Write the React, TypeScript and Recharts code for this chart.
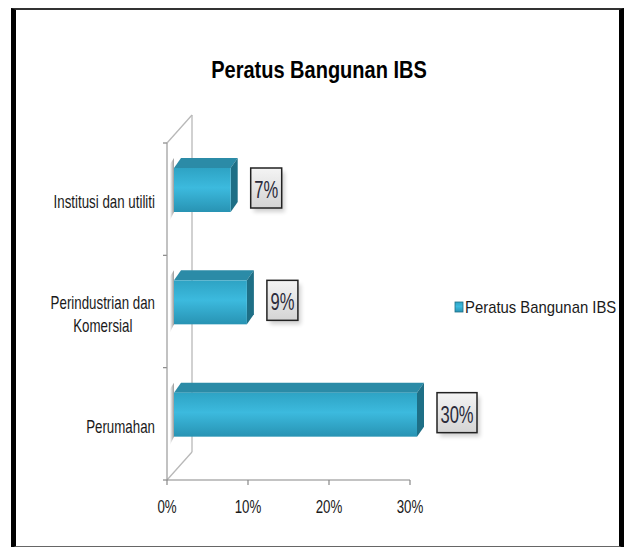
import React from 'react';
import { BarChart, Bar, XAxis, YAxis, LabelList, Customized } from 'recharts';

const categories = ['Institusi dan utiliti', 'Perindustrian dan\nKomersial', 'Perumahan'];
const values = [7, 9, 30];
const xTicks = [0, 10, 20, 30];
const seriesName = 'Peratus Bangunan IBS';
const title = 'Peratus Bangunan IBS';

const data = categories.map((c, i) => ({ name: c, value: values[i] }));

const FONT = "'Liberation Sans', Arial, sans-serif";
const W = 624;
const H = 547;
const XAH = 30;
const M = { top: 143, right: 214, bottom: 67 - XAH, left: 0 };
const YW = 167;
const PL = M.left + YW;
const PT = M.top;
const PB = H - M.bottom - XAH;
const DEPTH_X = 25;
const DEPTH_Y = 28;
const BX = 7;
const BY = 10;
const SQ = 0.74; // horizontal squeeze of body text

let ctx: CanvasRenderingContext2D | null = null;
function measure(t: string, font: string) {
  if (!ctx) ctx = document.createElement('canvas').getContext('2d');
  if (!ctx) return t.length * 8;
  ctx.font = font;
  return ctx.measureText(t).width;
}

const SText = (p: any) => {
  const { x, y, sx = 1, anchor = 'start', size, weight = 'normal', fill = '#1a1a1a', children } = p;
  return (
    <g transform={`translate(${x} ${y}) scale(${sx} 1)`}>
      <text x={0} y={0} textAnchor={anchor} fontFamily={FONT} fontSize={size} fontWeight={weight} fill={fill}>
        {children}
      </text>
    </g>
  );
};

const Bar3D = (props: any) => {
  const { x, y, width, height } = props;
  const fx = x + BX;
  const fy = y - 9;
  return (
    <g>
      <polygon
        points={`${fx - 4},${fy - 4} ${fx},${fy - BY} ${fx},${fy + height} ${fx - 4},${fy + height + 8}`}
        fill="url(#sideShadow)"
      />
      <polygon
        points={`${fx},${fy} ${fx + BX},${fy - BY} ${fx + width + BX},${fy - BY} ${fx + width},${fy}`}
        fill="#2b8ba7"
      />
      <polygon
        points={`${fx + width},${fy} ${fx + width + BX},${fy - BY} ${fx + width + BX},${fy + height - BY} ${fx + width},${fy + height}`}
        fill="#1e6f86"
      />
      <rect x={fx} y={fy} width={width} height={height} fill="url(#frontGrad)" />
    </g>
  );
};

const ValueLabel = (props: any) => {
  const { x, y, width, height, value } = props;
  const txt = `${value}%`;
  const bw = 13 + 9 * txt.length;
  const bh = 40;
  const fx = x + BX + width;
  const cy = y - 9 + height / 2 - 2;
  const bx = fx + 20;
  const by = cy - bh / 2;
  return (
    <g>
      <rect x={bx + 3} y={by + 4} width={bw} height={bh} fill="#000" opacity={0.18} filter="url(#blur)" />
      <rect x={bx} y={by} width={bw} height={bh} fill="url(#boxGrad)" stroke="#222" strokeWidth={1.5} />
      <SText x={bx + bw / 2} y={by + 30} sx={0.72} anchor="middle" size={23} fill="#2a2a3a">
        {txt}
      </SText>
    </g>
  );
};

const YTick = (props: any) => {
  const { y, payload } = props;
  const lines: string[] = String(payload.value).split('\n');
  const size = 18;
  const font = `${size}px ${FONT}`;
  const maxW = Math.max(...lines.map((l) => measure(l, font))) * SQ;
  const right = 155;
  const cx = right - maxW / 2;
  const lh = 23;
  const start = y + 9 - ((lines.length - 1) * lh) / 2;
  return (
    <g>
      {lines.map((l, i) => (
        <SText key={i} x={cx} y={start + i * lh} sx={SQ} anchor="middle" size={size}>
          {l}
        </SText>
      ))}
    </g>
  );
};

const XTick = (props: any) => {
  const { x, y, payload } = props;
  return (
    <SText x={x} y={y + 26} sx={SQ} anchor="middle" size={18}>
      {`${payload.value}%`}
    </SText>
  );
};

const Decor = () => {
  const band = (PB - PT) / categories.length;
  const bounds = Array.from({ length: categories.length + 1 }, (_, i) => PT + i * band);
  return (
    <g>
      <defs>
        <linearGradient id="frontGrad" x1="0" y1="0" x2="0" y2="1">
          <stop offset="0%" stopColor="#2ea3c4" />
          <stop offset="45%" stopColor="#3cbade" />
          <stop offset="100%" stopColor="#2893b3" />
        </linearGradient>
        <linearGradient id="boxGrad" x1="0" y1="0" x2="0" y2="1">
          <stop offset="0%" stopColor="#f4f4f4" />
          <stop offset="100%" stopColor="#d4d4d4" />
        </linearGradient>
        <linearGradient id="sideShadow" x1="0" y1="0" x2="1" y2="0">
          <stop offset="0%" stopColor="#ffffff" />
          <stop offset="100%" stopColor="#9a9a9a" />
        </linearGradient>
        <filter id="blur" x="-20%" y="-20%" width="140%" height="140%">
          <feGaussianBlur stdDeviation="2" />
        </filter>
      </defs>
      <SText x={319} y={78} sx={0.87} anchor="middle" size={23} weight="bold" fill="#000">
        {title}
      </SText>
      <g stroke="#b8b8b8" strokeWidth={1.3} fill="none">
        <line x1={PL + DEPTH_X} y1={PT - DEPTH_Y} x2={PL + DEPTH_X} y2={PB - DEPTH_Y} />
        <line x1={PL} y1={PT} x2={PL + DEPTH_X} y2={PT - DEPTH_Y} />
        <line x1={PL} y1={PB} x2={PL + DEPTH_X} y2={PB - DEPTH_Y} />
      </g>
      <g stroke="#888" strokeWidth={1.2}>
        {bounds.map((b, i) => (
          <line key={i} x1={PL - 4} y1={b} x2={PL} y2={b} />
        ))}
      </g>
      <rect x={455} y={302} width={8} height={10} fill="url(#frontGrad)" stroke="#1e6f86" strokeWidth={0.8} />
      <SText x={465} y={313} sx={0.93} size={16}>
        {seriesName}
      </SText>
    </g>
  );
};

export default function App() {
  return (
    <div style={{ position: 'absolute', left: 0, top: 0, width: W, height: H, background: '#fff' }}>
      <div
        style={{
          position: 'absolute',
          left: 11,
          top: 8,
          width: 613,
          height: 540,
          boxSizing: 'border-box',
          borderLeft: '5px solid #000',
          borderRight: '5px solid #000',
          borderTop: '2px solid #333',
          borderBottom: '2px solid #666',
        }}
      />
      <div style={{ position: 'absolute', left: 0, top: 0 }}>
        <BarChart width={W} height={H} data={data} layout="vertical" margin={M} barSize={44}>
          <Customized component={<Decor />} />
          <XAxis
            type="number"
            dataKey="value"
            domain={[0, 30]}
            ticks={xTicks}
            height={XAH}
            axisLine={{ stroke: '#888', strokeWidth: 1.2 }}
            tickLine={{ stroke: '#888', strokeWidth: 1.2 }}
            tickSize={5}
            tick={<XTick />}
          />
          <YAxis
            type="category"
            dataKey="name"
            width={YW}
            axisLine={{ stroke: '#999', strokeWidth: 1.2 }}
            tickLine={false}
            tick={<YTick />}
            interval={0}
          />
          <Bar dataKey="value" name={seriesName} shape={<Bar3D />} isAnimationActive={false}>
            <LabelList dataKey="value" content={<ValueLabel />} />
          </Bar>
        </BarChart>
      </div>
    </div>
  );
}
